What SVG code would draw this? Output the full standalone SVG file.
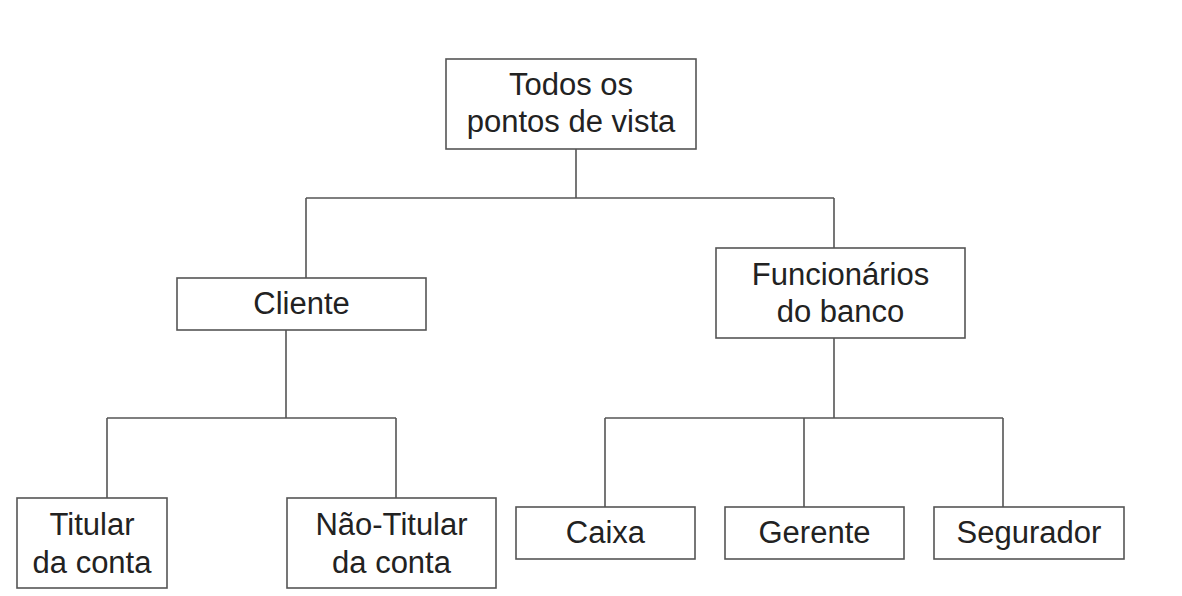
<svg xmlns="http://www.w3.org/2000/svg" width="1182" height="596" viewBox="0 0 1182 596">
<style>
.box{fill:#fff;stroke:#555;stroke-width:1.6}
.t{font-family:"Liberation Sans",Arial,sans-serif;font-size:31px;fill:#222;text-anchor:middle}
.c{fill:none;stroke:#555;stroke-width:1.6}
</style>
<rect width="1182" height="596" fill="#fff"/>
<g id="connectors">
<path class="c" d="M576 149V198M306 198H834M306 198V278M834 198V248"/>
<path class="c" d="M286 330V418M107 418H396M107 418V498M396 418V498"/>
<path class="c" d="M834 338V418M605 418H1003M605 418V507M804 418V507M1003 418V507"/>
</g>
<g id="n-root"><rect class="box" x="446" y="59" width="250" height="90"/><text class="t" x="571" y="95">Todos os</text><text class="t" x="571" y="132">pontos de vista</text></g>
<g id="n-cliente"><rect class="box" x="177" y="278" width="249" height="52"/><text class="t" x="301.5" y="314">Cliente</text></g>
<g id="n-func"><rect class="box" x="716" y="248" width="249" height="90"/><text class="t" x="840.5" y="285">Funcionários</text><text class="t" x="840.5" y="322">do banco</text></g>
<g id="n-titular"><rect class="box" x="17" y="498" width="150" height="90"/><text class="t" x="92" y="535">Titular</text><text class="t" x="92" y="573">da conta</text></g>
<g id="n-naotitular"><rect class="box" x="287" y="498" width="209" height="90"/><text class="t" x="391.5" y="535">Não-Titular</text><text class="t" x="391.5" y="573">da conta</text></g>
<g id="n-caixa"><rect class="box" x="516" y="507" width="179" height="52"/><text class="t" x="605.5" y="543">Caixa</text></g>
<g id="n-gerente"><rect class="box" x="725" y="507" width="179" height="52"/><text class="t" x="814.5" y="543">Gerente</text></g>
<g id="n-segurador"><rect class="box" x="934" y="507" width="190" height="52"/><text class="t" x="1029" y="543">Segurador</text></g>
</svg>
